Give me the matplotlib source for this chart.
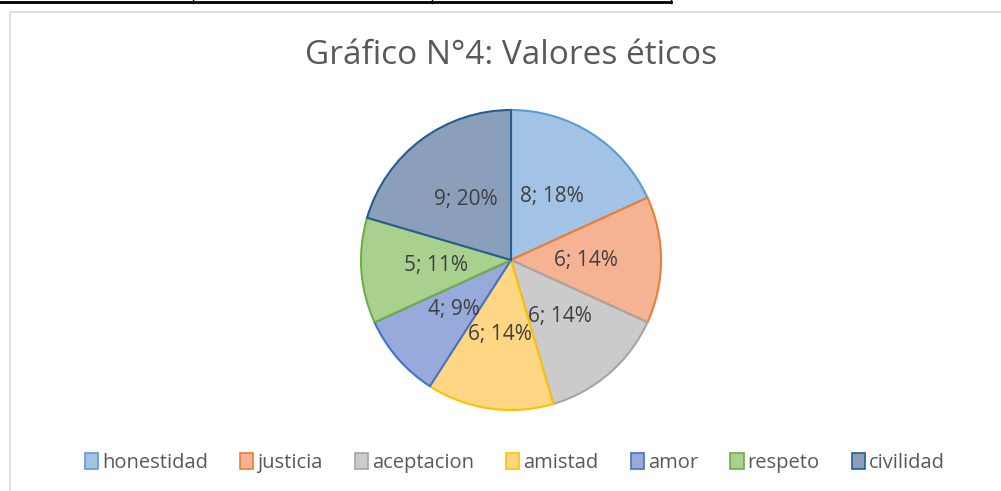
import matplotlib.pyplot as plt
from matplotlib.patches import Rectangle, Patch
from matplotlib.lines import Line2D

labels = ["honestidad", "justicia", "aceptacion", "amistad", "amor", "respeto", "civilidad"]
values = [8, 6, 6, 6, 4, 5, 9]
fills = ["#a3c3e6", "#f5b394", "#cbcbcb", "#ffd683", "#98aadc", "#a9d08e", "#8c9fba"]
edges = ["#5b9bd5", "#ed7d31", "#a5a5a5", "#ffc000", "#4472c4", "#70ad47", "#255e91"]

plt.rcParams['font.family'] = ['Open Sans', 'DejaVu Sans']

fig = plt.figure(figsize=(10.01, 4.91), dpi=100)
W, H = 1001, 491

# chart frame and table lines above it
fig.add_artist(Rectangle((10 / W, -0.2), 1.2, 1.2 - 12 / H, transform=fig.transFigure,
                         fill=False, edgecolor="#d9d9d9", linewidth=1.2))
fig.add_artist(Line2D([0, 671 / W], [1 - 2 / H, 1 - 2 / H], transform=fig.transFigure,
                      color="black", linewidth=2))
for xv in [193, 432, 671]:
    fig.add_artist(Line2D([xv / W, xv / W], [1, 1 - 3 / H], transform=fig.transFigure,
                          color="black", linewidth=1))

ax = fig.add_axes([(511 - 150) / W, (H - 260 - 150) / H, 300 / W, 300 / H])
total = sum(values)
wedges, texts = ax.pie(values, colors=fills, startangle=90, counterclock=False,
                       wedgeprops=dict(linewidth=1.5), radius=1,
                       labels=[f"{v}; {round(v / total * 100)}%" for v in values],
                       labeldistance=0.5,
                       textprops=dict(fontsize=15, color="#404040"))
for w, e in zip(wedges, edges):
    w.set_edgecolor(e)
for t in texts:
    t.set_horizontalalignment("center")
    t.set_verticalalignment("center")
ax.set_xlim(-1, 1)
ax.set_ylim(-1, 1)
ax.set_aspect("equal")

fig.text(511 / W, 1 - 55 / H, "Gráfico N°4: Valores éticos", ha="center", va="center",
         fontsize=24, color="#595959")

handles = [Patch(facecolor=f, edgecolor=e, linewidth=1.2) for f, e in zip(fills, edges)]
fig.legend(handles, labels, loc="center", bbox_to_anchor=(515 / W, 1 - 463 / H), ncol=7,
           frameon=False, fontsize=14.5, handlelength=0.65, handleheight=0.8,
           handletextpad=0.2, columnspacing=1.6, labelcolor="#595959")

fig.savefig("out.png", dpi=100)
